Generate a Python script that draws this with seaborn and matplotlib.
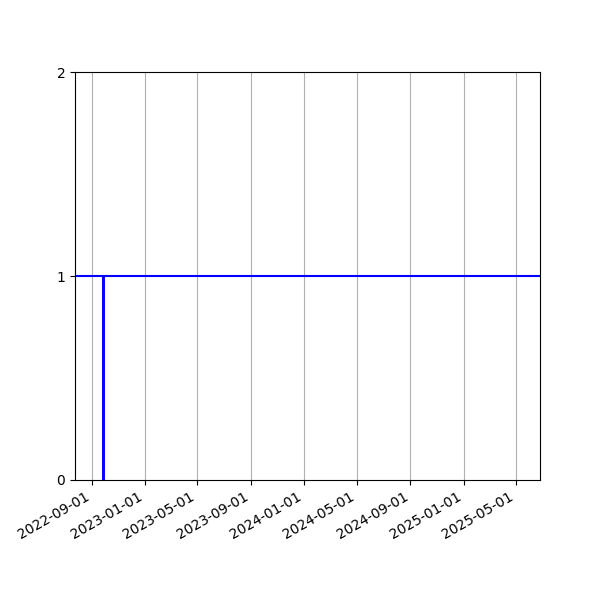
import matplotlib
matplotlib.use("Agg")
import matplotlib.pyplot as plt
import matplotlib.dates as mdates
import pandas as pd
import seaborn as sns

# Data: constant level and the single-date drop to zero
level_dates = ["2022-07-25", "2025-06-25"]
level_values = [1, 1]
drop_dates = ["2022-09-27", "2022-09-27"]
drop_values = [0, 1]
x_limits = ["2022-07-25", "2025-06-25"]
y_ticks = [0, 1, 2]

level = pd.DataFrame({"date": pd.to_datetime(level_dates), "value": level_values})
drop = pd.DataFrame({"date": pd.to_datetime(drop_dates), "value": drop_values})

fig, ax = plt.subplots(figsize=(6, 6), dpi=100)
sns.lineplot(data=level, x="date", y="value", sort=False, estimator=None,
             color="blue", linewidth=1.5, ax=ax)
sns.lineplot(data=drop, x="date", y="value", sort=False, estimator=None,
             color="blue", linewidth=2.1, ax=ax)

ax.set_xlim(pd.to_datetime(x_limits[0]), pd.to_datetime(x_limits[1]))
ax.set_ylim(0, 2)
ax.set_yticks(y_ticks)
ax.xaxis.set_major_locator(mdates.MonthLocator(bymonth=[1, 5, 9]))
ax.xaxis.set_major_formatter(mdates.DateFormatter("%Y-%m-%d"))
ax.grid(axis="x", color="#b0b0b0", linewidth=0.8)
ax.set_xlabel("")
ax.set_ylabel("")
fig.autofmt_xdate()

fig.savefig("out.png", dpi=100)
